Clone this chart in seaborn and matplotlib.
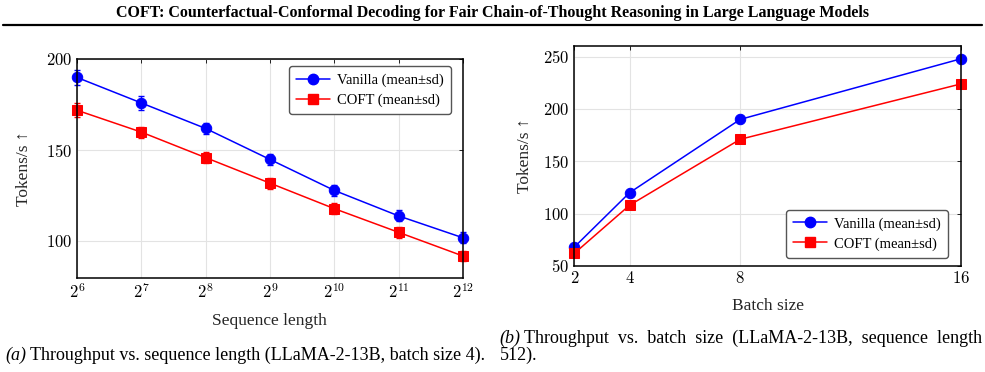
import numpy as np
import pandas as pd
import matplotlib
matplotlib.use("Agg")
import matplotlib.pyplot as plt
from matplotlib.lines import Line2D
import seaborn as sns

# --- data ---
seq_len = [64, 128, 256, 512, 1024, 2048, 4096]
seq_vanilla = [190, 176, 162, 145, 128, 114, 102]
seq_vanilla_sd = [4, 4, 3, 3, 3, 3, 3]
seq_coft = [172, 160, 146, 132, 118, 105, 92]
seq_coft_sd = [4, 3, 3, 3, 3, 3, 3]

batch = [2, 4, 8, 16]
bs_vanilla = [68, 120, 190, 248]
bs_vanilla_sd = [2, 2, 2, 3]
bs_coft = [62, 108, 171, 224]
bs_coft_sd = [2, 2, 2, 2]

series = ["Vanilla (mean±sd)", "COFT (mean±sd)"]
colors = {series[0]: "#0000ff", series[1]: "#ff0000"}
markers = {series[0]: "o", series[1]: "s"}

sns.set_style("white")
plt.rcParams["font.family"] = ["Liberation Serif", "DejaVu Serif"]
plt.rcParams["mathtext.fontset"] = "cm"
plt.rcParams["text.color"] = "black"

fig = plt.figure(figsize=(9.85, 3.72), dpi=100)
ax1 = fig.add_axes([0.078, 0.253, 0.392, 0.588])
ax2 = fig.add_axes([0.583, 0.285, 0.393, 0.591])


def draw(ax, x, vals, sds):
    df = pd.DataFrame({
        "x": list(x) * 2,
        "y": vals[0] + vals[1],
        "sd": sds[0] + sds[1],
        "series": [series[0]] * len(x) + [series[1]] * len(x),
    })
    sns.lineplot(data=df, x="x", y="y", hue="series", style="series",
                 palette=colors, markers=markers, dashes=False,
                 markersize=7.5, linewidth=1.1, legend=False,
                 ax=ax, zorder=3)
    for ln in ax.lines:
        ln.set_markeredgecolor(ln.get_color())
        ln.set_clip_on(False)
    for s in series:
        sub = df[df["series"] == s]
        eb = ax.errorbar(sub["x"], sub["y"], yerr=sub["sd"], fmt="none",
                         ecolor=colors[s], elinewidth=1.0, capsize=2.5, zorder=2)
        for art in eb.lines[1] + eb.lines[2]:
            art.set_clip_on(False)
    ax.grid(True, color="#e3e3e3", linewidth=0.8)
    ax.set_axisbelow(True)
    for sp in ax.spines.values():
        sp.set_linewidth(1.1)
        sp.set_color("black")
        sp.set_zorder(4)
    ax.tick_params(direction="in", length=3, width=0.6, labelsize=12,
                   top=True, right=True, colors="black", labelcolor="black")
    handles = [Line2D([], [], color=colors[s], marker=markers[s], markersize=7.5,
                      markeredgecolor=colors[s], linewidth=1.1) for s in series]
    return handles


def legend(ax, handles, loc, anchor):
    lg = ax.legend(handles, series, loc=loc, bbox_to_anchor=anchor,
                   fontsize=10.5, frameon=True, fancybox=True,
                   edgecolor="#555555", framealpha=1, borderpad=0.5,
                   labelspacing=0.45, handlelength=2.3, handletextpad=0.5,
                   borderaxespad=0)
    lg.get_frame().set_linewidth(1.0)
    lg.set_zorder(6)


h = draw(ax1, seq_len, [seq_vanilla, seq_coft], [seq_vanilla_sd, seq_coft_sd])
ax1.set_xscale("log", base=2)
ax1.set_xlim(64, 4096)
ax1.set_xticks(seq_len)
ax1.set_xticklabels([rf"$2^{{{int(np.log2(v))}}}$" for v in seq_len])
ax1.minorticks_off()
ax1.set_ylim(80, 200)
ax1.set_yticks([100, 150, 200])
ax1.set_yticklabels([rf"${v}$" for v in [100, 150, 200]])
ax1.set_xlabel("Sequence length", fontsize=12.5, labelpad=8)
ax1.set_ylabel("Tokens/s ↑", fontsize=12.5, labelpad=10)
legend(ax1, h, "upper right", (0.969, 0.968))

h = draw(ax2, batch, [bs_vanilla, bs_coft], [bs_vanilla_sd, bs_coft_sd])
ax2.set_xlim(2, 16)
ax2.set_xticks(batch)
ax2.set_xticklabels([rf"${v}$" for v in batch])
ax2.set_ylim(50, 260)
ax2.set_yticks([50, 100, 150, 200, 250])
ax2.set_yticklabels([rf"${v}$" for v in [50, 100, 150, 200, 250]])
ax2.set_xlabel("Batch size", fontsize=12.5, labelpad=8)
ax2.set_ylabel("Tokens/s ↑", fontsize=12.5, labelpad=7)
legend(ax2, h, "lower right", (0.966, 0.036))

# header and captions
fig.text(0.5, 0.965, "COFT: Counterfactual-Conformal Decoding for Fair Chain-of-Thought Reasoning in Large Language Models",
         ha="center", va="center", fontsize=11.5, fontweight="bold")
fig.add_artist(Line2D([0.003, 0.997], [0.932, 0.932], color="black", linewidth=1.6))

fig.text(0.005, 0.045, "(a)", fontsize=13, style="italic", va="center")
fig.text(0.030, 0.045, "Throughput vs. sequence length (LLaMA-2-13B, batch size 4).",
         fontsize=13, va="center")
fig.text(0.507, 0.09, "(b)", fontsize=13, style="italic", va="center")
fig.text(0.532, 0.09, "Throughput  vs.  batch  size  (LLaMA-2-13B,  sequence  length",
         fontsize=13, va="center")
fig.text(0.507, 0.045, "512).", fontsize=13, va="center")

fig.savefig("out.png", dpi=100)
